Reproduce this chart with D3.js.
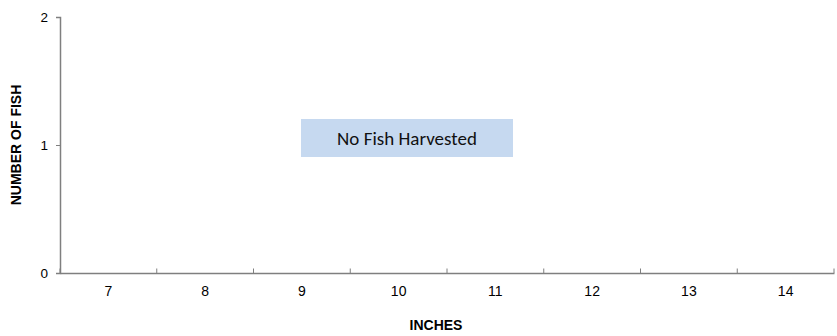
<!DOCTYPE html>
<html><head><meta charset="utf-8">
<script src="https://cdn.jsdelivr.net/npm/d3@7"></script>
<style>body{margin:0;background:#fff}svg{display:block}</style>
</head><body>
<script>
const categories = ["7","8","9","10","11","12","13","14"];
const counts = [0,0,0,0,0,0,0,0];
const yTicks = [0,1,2];
const note = "No Fish Harvested";

const W = 837, H = 336;
const svg = d3.select("body").append("svg").attr("width", W).attr("height", H);
const x = d3.scaleBand().domain(categories).range([60, 834]).padding(0);
const y = d3.scaleLinear().domain([0, 2]).range([273, 17]);
const axisColor = "#7f7f7f";
const font = "'Liberation Sans', Arial, sans-serif";

// bars (all zero)
svg.append("g").selectAll("rect").data(categories).join("rect")
  .attr("x", (d,i) => x(d) + x.bandwidth()*0.2)
  .attr("width", x.bandwidth()*0.6)
  .attr("y", (d,i) => y(counts[i]))
  .attr("height", (d,i) => y(0) - y(counts[i]))
  .attr("fill", "#4472c4");

// y axis
const ya = svg.append("g").attr("transform", "translate(60,0)")
  .call(d3.axisLeft(y).tickValues(yTicks).tickFormat(d3.format("d")).tickSize(4).tickPadding(8));
ya.select(".domain").attr("stroke", axisColor).attr("stroke-width", 1.5);
ya.selectAll(".tick line").attr("stroke", axisColor);
ya.selectAll("text").style("font-family", font).style("font-size", "13.5px").attr("fill", "#000");

// x axis
const xa = svg.append("g").attr("transform", "translate(0,273)")
  .call(d3.axisBottom(x).tickSize(0).tickPadding(13.5));
xa.select(".domain").attr("stroke", axisColor).attr("stroke-width", 1.5);
xa.selectAll("text").style("font-family", font).style("font-size", "14px").attr("fill", "#000");
// tick marks at category boundaries (pointing inward)
const bounds = categories.map(c => x(c)).concat([x(categories[categories.length-1]) + x.bandwidth()]);
svg.append("g").selectAll("line").data(bounds).join("line")
  .attr("x1", d => d).attr("x2", d => d)
  .attr("y1", 273).attr("y2", 268.5)
  .attr("stroke", axisColor).attr("stroke-width", 1);

// axis titles
svg.append("text").attr("x", 436).attr("y", 330).attr("text-anchor", "middle")
  .style("font-family", font).style("font-size", "14px").attr("font-weight", "bold")
  .text("INCHES");
svg.append("text").attr("transform", "translate(21,145) rotate(-90)").attr("text-anchor", "middle")
  .style("font-family", font).style("font-size", "14px").attr("font-weight", "bold")
  .text("NUMBER OF FISH");

// note box
const bw = 212;
const g = svg.append("g");
g.append("rect").attr("x", 301).attr("y", 119).attr("width", bw).attr("height", 38).attr("fill", "#c6d9f0");
g.append("text").attr("x", 301 + bw/2).attr("y", 145).attr("text-anchor", "middle")
  .style("font-family", "Carlito, 'Open Sans', sans-serif").style("font-size", "19px").attr("fill", "#111")
  .text(note);
</script>
</body></html>
